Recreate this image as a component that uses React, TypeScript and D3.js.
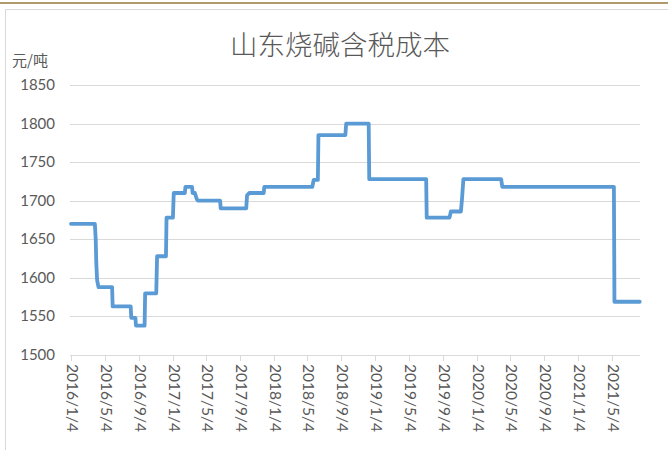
import React from 'react';
import * as d3 from 'd3';

// 山东烧碱含税成本 (元/吨)
const dates = [
  '2016-01-04', '2016-03-30', '2016-04-02', '2016-04-04', '2016-04-07', '2016-04-12',
  '2016-05-31', '2016-06-02', '2016-08-06', '2016-08-08', '2016-08-23', '2016-08-25',
  '2016-09-25', '2016-09-27', '2016-11-06', '2016-11-09', '2016-12-11', '2016-12-13',
  '2017-01-05', '2017-01-08', '2017-02-17', '2017-02-19', '2017-03-15', '2017-03-17',
  '2017-03-25', '2017-04-01', '2017-04-05', '2017-06-24', '2017-06-26', '2017-09-26',
  '2017-09-29', '2017-10-07', '2017-11-28', '2017-11-30', '2018-05-22', '2018-05-27',
  '2018-06-11', '2018-06-13', '2018-09-18', '2018-09-21', '2018-12-11', '2018-12-13',
  '2019-07-06', '2019-07-08', '2019-09-28', '2019-10-03', '2019-11-08', '2019-11-12',
  '2019-11-17', '2020-04-01', '2020-04-05', '2021-05-12', '2021-05-14', '2021-08-13',
];
const values = [
  1670, 1670, 1650, 1620, 1597, 1588,
  1588, 1563, 1563, 1548, 1548, 1538,
  1538, 1580, 1580, 1628, 1628, 1678,
  1678, 1710, 1710, 1718, 1718, 1710,
  1710, 1702, 1700, 1700, 1690, 1690,
  1707, 1710, 1710, 1718, 1718, 1727,
  1727, 1785, 1785, 1800, 1800, 1728,
  1728, 1678, 1678, 1686, 1686, 1702,
  1728, 1728, 1718, 1718, 1569, 1569,
];
const tickDates = [
  '2016-01-04', '2016-05-04', '2016-09-04', '2017-01-04', '2017-05-04', '2017-09-04',
  '2018-01-04', '2018-05-04', '2018-09-04', '2019-01-04', '2019-05-04', '2019-09-04',
  '2020-01-04', '2020-05-04', '2020-09-04', '2021-01-04', '2021-05-04',
];
const yTicks = [1500, 1550, 1600, 1650, 1700, 1750, 1800, 1850];

const title = '山东烧碱含税成本';
const unit = '元/吨';

const parse = d3.timeParse('%Y-%m-%d');
const fmt = (d: Date) => `${d.getFullYear()}/${d.getMonth() + 1}/${d.getDate()}`;

export default function App() {
  const width = 668;
  const height = 450;

  const x = d3.scaleTime()
    .domain([parse('2016-01-04')!, parse('2021-08-14')!])
    .range([71, 640]);
  const y = d3.scaleLinear().domain([1500, 1850]).range([355, 85]);

  const points = dates.map((d, i) => ({ date: parse(d)!, value: values[i] }));
  const line = d3.line<{ date: Date; value: number }>()
    .x(d => x(d.date))
    .y(d => y(d.value));

  const numFont = 'Lato, "Noto Sans CJK SC", sans-serif';
  const grey = '#595959';

  return (
    <svg width={width} height={height} style={{ position: 'absolute', left: 0, top: 0, background: '#fff' }}>
      {/* frame */}
      <line x1={0} x2={width} y1={3} y2={3} stroke="#b09a6c" strokeWidth={2} />
      <rect x={5.5} y={9.5} width={width} height={height} fill="none" stroke="#d9d9d9" />

      {/* title + unit */}
      <text x={340} y={55} textAnchor="middle" fontSize={27.5} fill={grey}
        fontFamily='"Noto Sans CJK SC", sans-serif' fontWeight={300}>{title}</text>
      <text x={12} y={66} fontSize={15} fill={grey}
        fontFamily='"Noto Sans CJK SC", sans-serif'>{unit}</text>

      {/* gridlines + y labels */}
      {yTicks.map(t => (
        <g key={t}>
          <line x1={70} x2={640} y1={Math.round(y(t)) + 0.5} y2={Math.round(y(t)) + 0.5}
            stroke="#d9d9d9" strokeWidth={1} />
          <text x={55} y={y(t) + 5} textAnchor="end" fontSize={15} fill={grey}
            fontFamily={numFont}>{t}</text>
        </g>
      ))}

      {/* x ticks + labels */}
      {tickDates.map(s => {
        const d = parse(s)!;
        const px = Math.round(x(d)) + 0.5;
        return (
          <g key={s}>
            <line x1={px} x2={px} y1={355} y2={361} stroke="#d9d9d9" />
            <text transform={`translate(${px - 5},${364}) rotate(90)`} fontSize={15.5} fill={grey}
              fontFamily={numFont}>{fmt(d)}</text>
          </g>
        );
      })}

      {/* series */}
      <path d={line(points) || ''} fill="none" stroke="#5b9bd5" strokeWidth={3.8}
        strokeLinejoin="round" strokeLinecap="round" />
    </svg>
  );
}
